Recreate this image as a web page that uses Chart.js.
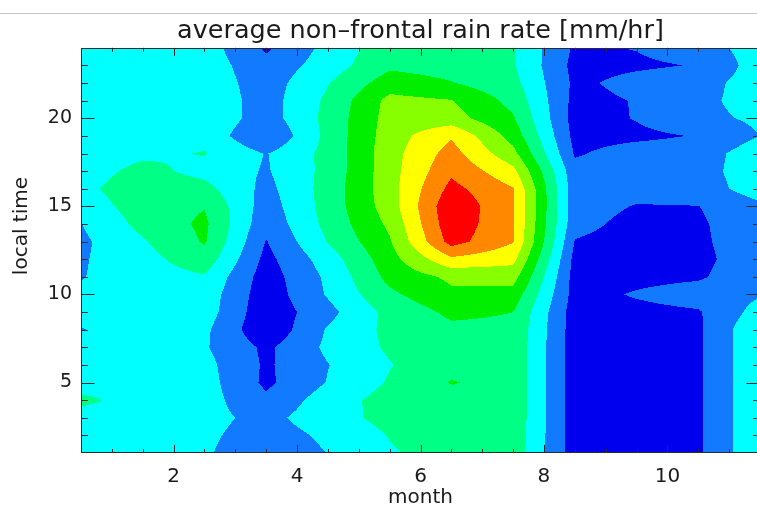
<!DOCTYPE html>
<html>
<head>
<meta charset="utf-8">
<script src="https://cdn.jsdelivr.net/npm/chart.js@4.4.0/dist/chart.umd.min.js"></script>
<style>
  html, body { margin: 0; padding: 0; background: #fff; overflow: hidden; }
  #wrap { width: 766px; height: 512px; }
</style>
</head>
<body>
<div id="wrap"><canvas id="chart" width="766" height="512"></canvas></div>
<script>
// grid positions
var months = [0.5, 1.5, 2.5, 3.5, 4.5, 5.5, 6.5, 7.5, 8.5, 9.5, 10.5, 11.5];
var hours = [1, 2, 3, 4, 5, 6, 7, 8, 9, 10, 11, 12, 13, 14, 15, 16, 17, 18, 19, 20, 21, 22, 23, 24];

// rain rate (0.1 mm/hr units), one array per month column, hour 1..24
var mon01 = [2.5, 2.5, 2.55, 3.25, 2.5, 2.5, 2.4, 1.95, 2.3, 2.15, 1.95, 1.9, 1.8, 1.98, 2.4, 2.7, 2.5, 2.5, 2.5, 2.5, 2.5, 2.5, 2.5, 2.5];
var mon02 = [2.5, 2.5, 2.5, 2.55, 2.5, 2.5, 2.5, 2.5, 2.5, 2.5, 2.55, 2.65, 2.9, 3.3, 3.5, 3.7, 3.3, 2.8, 2.6, 2.5, 2.5, 2.5, 2.5, 2.5];
var mon03 = [2.12, 2.2, 2.3, 2.4, 2.4, 2.3, 2.1, 2.2, 2.5, 2.6, 2.9, 3.6, 4.1, 4.2, 3.95, 3.3, 2.7, 3.05, 2.7, 2.8, 2.7, 2.6, 2.55, 2.5];
var mon04 = [1.3, 1.5, 1.7, 1.2, 0.8, 0.85, 0.8, 0.2, 0.3, 0.4, 0.5, 0.7, 0.95, 1.3, 1.5, 1.7, 1.9, 1.95, 0.98, 1.5, 1.55, 1.5, 1.3, 0.85];
var mon05 = [2.02, 2.2, 2.6, 2.5, 2.05, 1.97, 2.2, 2.1, 1.7, 2.1, 2.2, 2.5, 3.05, 3.3, 3.4, 3.4, 3.3, 3.3, 3.3, 3.3, 3.2, 2.95, 2.5, 2.3];
var mon06 = [2.9, 3.05, 3.3, 3.4, 3.1, 2.95, 3.15, 3.25, 3.3, 3.8, 4.3, 4.6, 4.9, 5.2, 5.5, 5.6, 5.6, 5.6, 5.5, 5.4, 5.3, 4.5, 3.8, 3.6];
var mon07 = [3.4, 3.5, 3.6, 3.7, 4.05, 3.7, 3.75, 3.8, 4.2, 4.8, 5.2, 6.8, 8.4, 8.7, 8.8, 8.3, 7.8, 7.4, 6.9, 5.4, 5.05, 4.05, 3.6, 3.4];
var mon08 = [3.6, 3.65, 3.7, 3.7, 3.7, 3.7, 3.75, 3.8, 4.0, 4.6, 5.4, 6.3, 7.05, 7.1, 7.1, 7.05, 6.3, 5.3, 4.6, 4.1, 3.7, 3.3, 3.1, 3.05];
var mon09 = [0.5, 0.5, 0.5, 0.5, 0.5, 0.5, 0.5, 0.5, 0.5, 0.6, 0.6, 0.7, 0.95, 1.3, 1.4, 1.4, 1.3, 0.9, 0.7, 0.6, 0.7, 0.8, 0.7, 0.85];
var mon10 = [0.6, 0.6, 0.6, 0.6, 0.6, 0.6, 0.6, 0.65, 0.7, 1.1, 0.7, 0.5, 0.6, 0.7, 0.95, 1.3, 1.5, 1.4, 0.8, 1.05, 1.05, 1.3, 0.85, 1.04];
var mon11 = [0.85, 0.85, 0.85, 0.85, 0.85, 0.85, 0.85, 0.85, 0.9, 1.5, 0.85, 0.7, 0.8, 0.85, 0.98, 1.5, 1.6, 1.5, 1.05, 1.7, 1.7, 1.6, 1.05, 1.5];
var mon12 = [2.9, 2.9, 2.9, 2.9, 2.9, 2.9, 2.9, 2.9, 2.4, 1.9, 1.8, 1.7, 1.7, 1.7, 1.8, 2.5, 2.6, 2.6, 2.0, 2.2, 2.5, 2.5, 2.5, 2.5];
var rainRate = [mon01, mon02, mon03, mon04, mon05, mon06, mon07, mon08, mon09, mon10, mon11, mon12];

// contour levels and fill colours (lowest band first)
var levels = [1, 2, 3, 4, 5, 6, 7, 8];
var levelColors = ["#0000ee", "#117aff", "#00ffff", "#00ff85", "#00ee00", "#88ff00", "#ffff00", "#ff8800", "#ff0000"];

var xTicks = [2, 4, 6, 8, 10];
var yTicks = [5, 10, 15, 20];

var FONT = "'DejaVu Sans', 'Liberation Sans', sans-serif";
var TEXT = "#1a1a1a";

var gridPoints = [];
months.forEach(function (m, i) {
  hours.forEach(function (h, j) {
    gridPoints.push({ x: m, y: h, v: rainRate[i][j] });
  });
});

function hexRgb(c) {
  return [parseInt(c.substr(1, 2), 16), parseInt(c.substr(3, 2), 16), parseInt(c.substr(5, 2), 16)];
}

function cellPos(v, arr) {
  var f = (v - arr[0]) / (arr[1] - arr[0]);
  f = Math.max(0, Math.min(arr.length - 1, f));
  var i = Math.min(Math.floor(f), arr.length - 2);
  return [i, f - i];
}

// filled contours, sampled through the chart's scales
var contourFill = {
  id: "contourFill",
  beforeDatasetsDraw: function (chart) {
    var ctx = chart.ctx, a = chart.chartArea;
    var xs = chart.scales.x, ys = chart.scales.y;
    var x0 = Math.round(a.left), y0 = Math.round(a.top);
    var w = Math.round(a.right) - x0, h = Math.round(a.bottom) - y0;
    var img = ctx.createImageData(w, h);
    var rgb = levelColors.map(hexRgb);
    var cols = [];
    for (var i = 0; i < w; i++) cols.push(cellPos(xs.getValueForPixel(x0 + i + 0.5), months));
    for (var j = 0; j < h; j++) {
      var rp = cellPos(ys.getValueForPixel(y0 + j + 0.5), hours);
      var j0 = rp[0], ty = rp[1];
      for (var i = 0; i < w; i++) {
        var i0 = cols[i][0], tx = cols[i][1];
        var v = (1 - tx) * (1 - ty) * rainRate[i0][j0] + tx * (1 - ty) * rainRate[i0 + 1][j0] +
                (1 - tx) * ty * rainRate[i0][j0 + 1] + tx * ty * rainRate[i0 + 1][j0 + 1];
        var b = 0;
        while (b < levels.length && v >= levels[b]) b++;
        var c = rgb[b], k = (j * w + i) * 4;
        img.data[k] = c[0]; img.data[k + 1] = c[1]; img.data[k + 2] = c[2]; img.data[k + 3] = 255;
      }
    }
    ctx.putImageData(img, x0, y0);
  }
};

// IDL style frame with inward ticks on all four sides
var frameTicks = {
  id: "frameTicks",
  beforeDraw: function (chart) {
    var ctx = chart.ctx;
    ctx.save();
    ctx.strokeStyle = "#c4c4c4";
    ctx.lineWidth = 1;
    ctx.beginPath();
    ctx.moveTo(0, 13.5);
    ctx.lineTo(chart.width, 13.5);
    ctx.stroke();
    ctx.restore();
  },
  afterDatasetsDraw: function (chart) {
    var ctx = chart.ctx, a = chart.chartArea;
    var xs = chart.scales.x, ys = chart.scales.y;
    var xLen = (a.bottom - a.top) * 0.02, yLen = (a.right - a.left) * 0.02;
    ctx.save();
    ctx.strokeStyle = "#2a2a2a";
    ctx.lineWidth = 1;
    ctx.beginPath();
    for (var m = 1; m < 11.5; m += 0.5) {
      var len = xTicks.indexOf(m) >= 0 ? xLen : xLen / 2;
      var px = Math.round(xs.getPixelForValue(m)) + 0.5;
      ctx.moveTo(px, a.bottom); ctx.lineTo(px, a.bottom - len);
      ctx.moveTo(px, a.top); ctx.lineTo(px, a.top + len);
    }
    for (var t = 2; t < 24; t++) {
      var l2 = yTicks.indexOf(t) >= 0 ? yLen : yLen / 2;
      var py = Math.round(ys.getPixelForValue(t)) + 0.5;
      ctx.moveTo(a.left, py); ctx.lineTo(a.left + l2, py);
      ctx.moveTo(a.right, py); ctx.lineTo(a.right - l2, py);
    }
    ctx.stroke();
    ctx.strokeRect(Math.round(a.left) + 0.5, Math.round(a.top) + 0.5,
      Math.round(a.right - a.left) - 1, Math.round(a.bottom - a.top) - 1);

    // y axis title
    ctx.fillStyle = TEXT;
    ctx.font = "20px " + FONT;
    ctx.textAlign = "center";
    ctx.textBaseline = "middle";
    ctx.translate(22, a.top + (a.bottom - a.top) * 0.44);
    ctx.rotate(-Math.PI / 2);
    ctx.fillText("local time", 0, 0);
    ctx.restore();
  }
};

var ctx = document.getElementById("chart").getContext("2d");
var chart = new Chart(ctx, {
  type: "scatter",
  data: {
    datasets: [{ label: "rain rate", data: gridPoints, pointRadius: 0, pointHoverRadius: 0 }]
  },
  options: {
    responsive: false,
    animation: false,
    devicePixelRatio: 1,
    layout: { padding: { left: 0, right: 6, top: 0, bottom: 0 } },
    plugins: {
      legend: { display: false },
      tooltip: { enabled: false },
      title: {
        display: true,
        fullSize: false,
        text: "average non–frontal rain rate [mm/hr]",
        color: TEXT,
        font: { family: FONT, size: 25.5, weight: "normal" },
        padding: { top: 16, bottom: 1.2 }
      }
    },
    scales: {
      x: {
        type: "linear",
        min: 0.5,
        max: 11.5,
        grid: { display: false, drawTicks: false },
        border: { display: false },
        afterBuildTicks: function (s) { s.ticks = xTicks.map(function (v) { return { value: v }; }); },
        afterFit: function (s) { s.height = 59; },
        ticks: { color: TEXT, font: { family: FONT, size: 20 }, padding: 12, maxRotation: 0 },
        title: { display: true, text: "month", color: TEXT, font: { family: FONT, size: 20 }, padding: { top: 0, bottom: 2 } }
      },
      y: {
        type: "linear",
        min: 1,
        max: 24,
        grid: { display: false, drawTicks: false },
        border: { display: false },
        afterBuildTicks: function (s) { s.ticks = yTicks.map(function (v) { return { value: v }; }); },
        afterFit: function (s) { s.width = 81; },
        ticks: { color: TEXT, font: { family: FONT, size: 19 }, padding: 9 }
      }
    }
  },
  plugins: [contourFill, frameTicks]
});
</script>
</body>
</html>
